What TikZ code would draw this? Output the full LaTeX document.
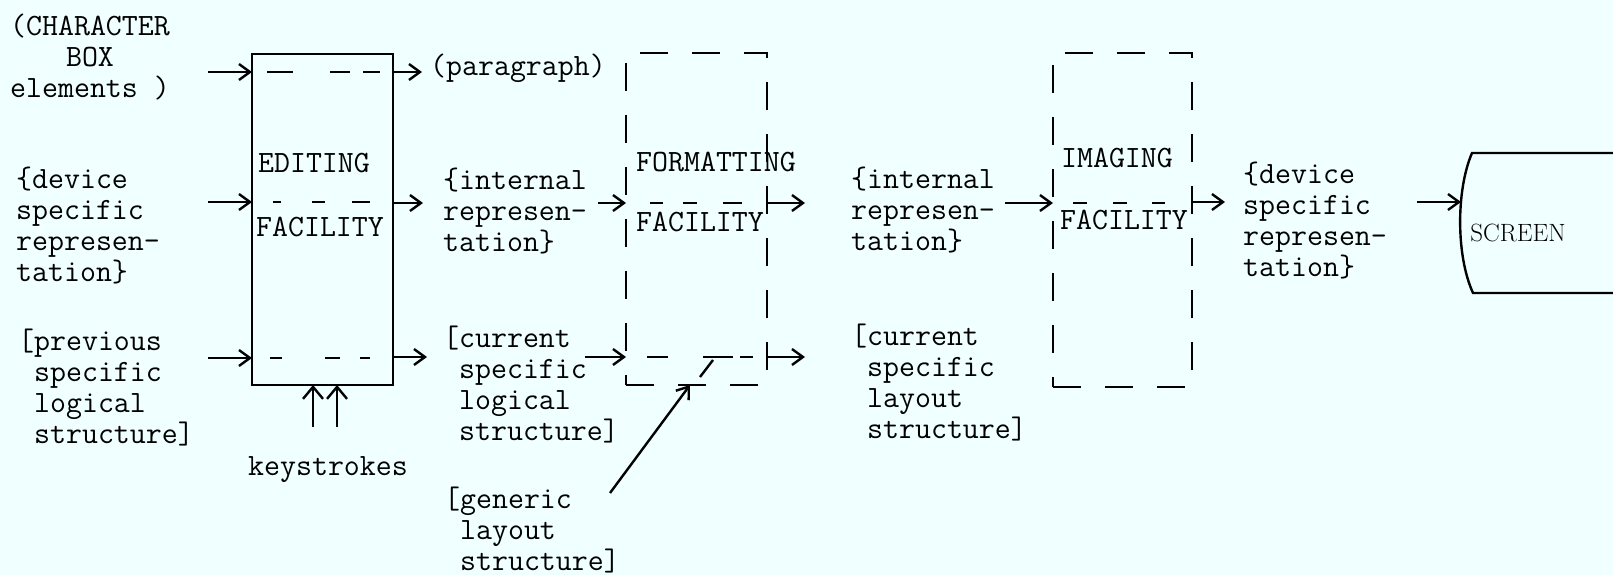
\documentclass[tikz,border=0pt]{standalone}
\usetikzlibrary{arrows.meta,calc}
\definecolor{bg}{RGB}{240,255,255}
\begin{document}
\begin{tikzpicture}[x=1pt,y=-1pt,line width=2.4pt,
  txt/.style={inner sep=0pt,font=\fontsize{31}{31}\selectfont\ttfamily},
  lt/.style={txt,align=left,anchor=west},
  ct/.style={txt,align=center},
  arr/.style={-{Straight Barb[length=11pt,width=16pt]}},
  karr/.style={-{Straight Barb[length=12pt,width=20pt]}},
  solidbox/.style={draw,rectangle,inner sep=0pt,outer sep=0pt},
  dbox/.style={draw,rectangle,inner sep=0pt,outer sep=0pt,dash pattern=on 28pt off 24pt}]
\fill[bg] (0,0) rectangle (1613,575);
\useasboundingbox (0,0) rectangle (1613,575);

% boxes
\node[solidbox,minimum width=141pt,minimum height=331pt] (edit) at (322.5,219.5) {};
\node[dbox,minimum width=141pt,minimum height=332pt] (fmt) at (696.5,219) {};
\node[dbox,minimum width=139pt,minimum height=334pt] (img) at (1122.5,220) {};

% box labels
\node[txt] (edT) at (314,163) {EDITING};
\node[txt] (edB) at (320,227) {FACILITY};
\node[txt] (fmT) at (716,162) {FORMATTING};
\node[txt] (fmB) at (700,222) {FACILITY};
\node[txt] (imT) at (1117,158) {IMAGING};
\node[txt] (imB) at (1124,220) {FACILITY};

% inner dashes
\draw (267,72)--(293,72) (330,72)--(350,72) (363,72)--(380,72);
\draw (273,202)--(281,202) (312,202)--(325,202) (352,202)--(370,202);
\draw (270,358)--(282,358) (325,358)--(340,358) (360,358)--(370,358);
\draw (650,203)--(663,203) (683,203)--(697,203) (723,203)--(742,203);
\draw (647,357)--(668,357) (703,357)--(733,357) (740,357)--(753,357);
\draw (1073,203)--(1087,203) (1113,203)--(1127,203) (1152,203)--(1165,203);
\draw (700,377) -- (713,360);

% texts
\node[ct] (chr) at (90,57) {(CHARACTER\\BOX\\elements )};
\node[lt] (dev1) at (15,226) {\{device\\specific\\represen-\\tation\}};
\node[lt] (prev) at (17,388) {[previous\\\ specific\\\ logical\\\ structure]};
\node[txt] (para) at (518,68) {(paragraph)};
\node[lt] (int1) at (442,211) {\{internal\\represen-\\tation\}};
\node[lt] (cur1) at (442,385) {[current\\\ specific\\\ logical\\\ structure]};
\node[lt] (gen) at (443,530) {[generic\\\ layout\\\ structure]};
\node[lt] (int2) at (850,210) {\{internal\\represen-\\tation\}};
\node[lt] (cur2) at (850,383) {[current\\\ specific\\\ layout\\\ structure]};
\node[lt] (dev2) at (1242,221) {\{device\\specific\\represen-\\tation\}};
\node[txt] (keys) at (328,470) {keystrokes};

% screen
\draw (1613,153) -- (1472,153) .. controls (1456,190) and (1456,256) .. (1473,293) -- (1613,293);
\coordinate (scrin) at (1461,202);
\node[inner sep=0pt,font=\fontsize{25}{25}\selectfont] (scr) at (1518,233) {SCREEN};

% connectors
\coordinate (inA) at (208,72);
\coordinate (inB) at (208,202);
\coordinate (inC) at (208,358);
\draw[arr] (inA) -- (inA -| edit.west);
\draw[arr] (inB) -- (inB -| edit.west);
\draw[arr] (inC) -- (inC -| edit.west);
\coordinate (outA) at (422,72);
\coordinate (outB) at (423,203);
\coordinate (outC) at (427,357);
\draw[arr] (outA -| edit.east) -- (outA);
\draw[arr] (outB -| edit.east) -- (outB);
\draw[arr] (outC -| edit.east) -- (outC);
\coordinate (k1) at (313,427);
\coordinate (k2) at (337,427);
\draw[karr] (k1) -- (k1 |- edit.south);
\draw[karr] (k2) -- (k2 |- edit.south);
\coordinate (fa) at (598,203);
\coordinate (fb) at (585,357);
\draw[arr] (fa) -- (fa -| fmt.west);
\draw[arr] (fb) -- (fb -| fmt.west);
\coordinate (fo1) at (805,203);
\coordinate (fo2) at (805,357);
\draw[arr] (fo1 -| fmt.east) -- (fo1);
\draw[arr] (fo2 -| fmt.east) -- (fo2);
\coordinate (g0) at (610,493);
\draw[arr] (g0) -- ($(fmt.south)+(-6.5,0)$);
\coordinate (ia) at (1005,203);
\draw[arr] (ia) -- (ia -| img.west);
\coordinate (io) at (1225,202);
\draw[arr] (io -| img.east) -- (io);
\coordinate (sa) at (1417,202);
\draw[arr] (sa) -- (scrin);
\end{tikzpicture}
\end{document}
